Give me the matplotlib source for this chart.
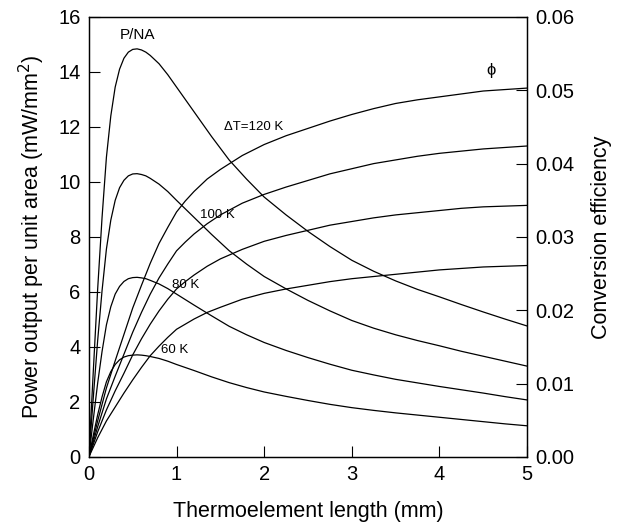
import matplotlib
matplotlib.use("Agg")
import matplotlib.pyplot as plt

plt.rcParams['font.family'] = ['Liberation Sans', 'DejaVu Sans']

# thermoelement length (mm) for the power curves
len_p = [0, 0.05, 0.1, 0.15, 0.2, 0.25, 0.3, 0.35, 0.4, 0.45, 0.5, 0.55, 0.6, 0.65,
         0.7, 0.8, 0.9, 1.0, 1.2, 1.4, 1.6, 1.8, 2.0, 2.25, 2.5, 2.75, 3.0, 3.25, 3.5,
         3.75, 4.0, 4.25, 4.5, 4.75, 5.0]

# power output per unit area (mW/mm^2), left axis
p_120 = [0, 3.1, 6.1, 8.7, 10.9, 12.4, 13.45, 14.1, 14.5, 14.72, 14.82, 14.84, 14.8, 14.72,
         14.6, 14.3, 13.9, 13.45, 12.55, 11.65, 10.8, 10.1, 9.45, 8.8, 8.2, 7.65, 7.15, 6.75,
         6.4, 6.09, 5.82, 5.54, 5.27, 5.01, 4.76]
p_100 = [0, 2.15, 4.23, 6.04, 7.56, 8.61, 9.33, 9.79, 10.06, 10.22, 10.29, 10.3, 10.27, 10.22,
         10.13, 9.92, 9.65, 9.33, 8.71, 8.09, 7.5, 7.01, 6.56, 6.11, 5.69, 5.31, 4.96, 4.68,
         4.44, 4.23, 4.04, 3.84, 3.66, 3.48, 3.3]
p_80 = [0, 1.36, 2.68, 3.83, 4.8, 5.46, 5.92, 6.2, 6.38, 6.48, 6.52, 6.53, 6.51, 6.48,
        6.42, 6.29, 6.12, 5.92, 5.52, 5.13, 4.75, 4.44, 4.16, 3.87, 3.61, 3.37, 3.15, 2.98,
        2.82, 2.69, 2.56, 2.44, 2.32, 2.19, 2.07]
p_60 = [0, 0.78, 1.53, 2.18, 2.73, 3.1, 3.36, 3.53, 3.63, 3.68, 3.7, 3.71, 3.7, 3.68,
        3.65, 3.58, 3.48, 3.36, 3.14, 2.91, 2.7, 2.52, 2.36, 2.2, 2.05, 1.91, 1.79, 1.69,
        1.6, 1.52, 1.44, 1.36, 1.28, 1.2, 1.13]

# thermoelement length (mm) for the efficiency curves
len_e = [0, 0.1, 0.2, 0.3, 0.4, 0.5, 0.6, 0.7, 0.8, 0.9, 1.0, 1.1, 1.2, 1.35, 1.5, 1.75,
         2.0, 2.25, 2.5, 2.75, 3.0, 3.25, 3.5, 3.75, 4.0, 4.25, 4.5, 4.75, 5.0]

# conversion efficiency, right axis
eff_120 = [0, 0.0049, 0.0094, 0.0131, 0.0167, 0.0203, 0.0234, 0.0264, 0.0291, 0.0313,
           0.0334, 0.0349, 0.0362, 0.0379, 0.0392, 0.0411, 0.0426, 0.0438, 0.0448,
           0.0458, 0.0467, 0.0475, 0.0482, 0.0487, 0.0491, 0.0495, 0.0499, 0.0501, 0.0503]
eff_100 = [0, 0.0041, 0.0079, 0.0110, 0.0140, 0.0170, 0.0197, 0.0222, 0.0244, 0.0263,
           0.0281, 0.0293, 0.0304, 0.0318, 0.0330, 0.0346, 0.0358, 0.0368, 0.0377,
           0.0386, 0.0393, 0.0400, 0.0405, 0.0410, 0.0414, 0.0417, 0.0420, 0.0422, 0.0424]
eff_80 = [0, 0.0034, 0.0064, 0.0090, 0.0114, 0.0139, 0.0161, 0.0181, 0.0199, 0.0215,
          0.0229, 0.0239, 0.0248, 0.0260, 0.0270, 0.0283, 0.0294, 0.0302, 0.0309,
          0.0316, 0.0321, 0.0326, 0.0330, 0.0333, 0.0336, 0.0339, 0.0341, 0.0342, 0.0343]
eff_60 = [0, 0.0026, 0.0049, 0.0068, 0.0087, 0.0105, 0.0122, 0.0138, 0.0151, 0.0163,
          0.0174, 0.0181, 0.0188, 0.0197, 0.0204, 0.0215, 0.0223, 0.0229, 0.0234,
          0.0239, 0.0243, 0.0246, 0.0249, 0.0252, 0.0255, 0.0257, 0.0259, 0.0260, 0.0261]

x_ticks = [0, 1, 2, 3, 4, 5]
left_ticks = [0, 2, 4, 6, 8, 10, 12, 14, 16]
right_ticks = [0.00, 0.01, 0.02, 0.03, 0.04, 0.05, 0.06]

fig = plt.figure(figsize=(6.26, 5.30), dpi=100)
ax = fig.add_axes([0.142, 0.138, 0.700, 0.830])
ax2 = ax.twinx()

for p in [p_120, p_100, p_80, p_60]:
    ax.plot(len_p, p, color='black', lw=0.9)
for e in [eff_120, eff_100, eff_80, eff_60]:
    ax2.plot(len_e, e, color='black', lw=0.9)

ax.set_xlim(0, 5)
ax.set_ylim(0, 16)
ax2.set_ylim(0, 0.06)

ax.set_xticks(x_ticks)
ax.set_yticks(left_ticks)
ax2.set_yticks(right_ticks)
ax.set_xticklabels([str(t) for t in x_ticks])
ax.set_yticklabels([str(t) for t in left_ticks])
ax2.set_yticklabels(['%.2f' % t for t in right_ticks])

ax.tick_params(direction='in', length=8, width=0.8, labelsize=14.5, pad=6)
ax2.tick_params(direction='in', length=8, width=0.8, labelsize=14.5, pad=6)

ax.set_xlabel('Thermoelement length (mm)', fontsize=15.5, labelpad=12)
ax.set_ylabel('Power output per unit area (mW/mm$^2$)', fontsize=15.5, labelpad=8)
ax2.set_ylabel('Conversion efficiency', fontsize=15.5, labelpad=12)

for a in [ax, ax2]:
    for s in a.spines.values():
        s.set_linewidth(0.9)

ax.text(0.55, 15.1, 'P/NA', fontsize=11, ha='center', va='bottom')
ax.text(1.54, 12.0, 'ΔT=120 K', fontsize=9.5, va='center')
ax.text(1.27, 8.78, '100 K', fontsize=9.5, va='center')
ax.text(0.95, 6.26, '80 K', fontsize=9.5, va='center')
ax.text(0.82, 3.89, '60 K', fontsize=9.5, va='center')
ax.text(4.59, 14.07, 'ϕ', fontsize=12, ha='center', va='center')

fig.savefig('out.png', dpi=100)
